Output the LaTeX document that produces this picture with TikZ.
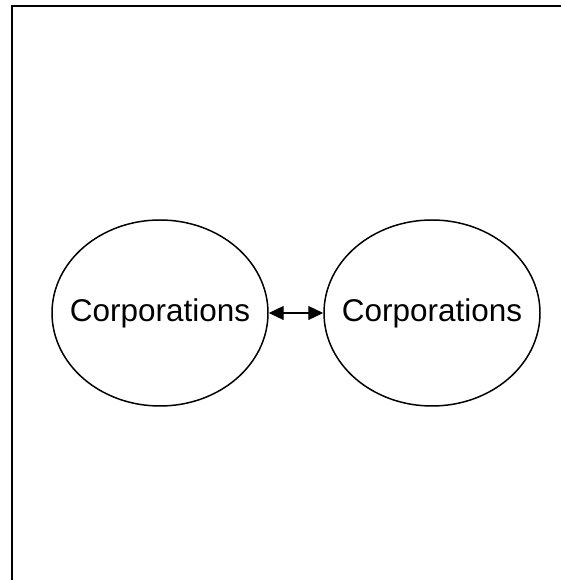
\documentclass[tikz,border=0pt]{standalone}
\usepackage{fontspec}
\setmainfont{Liberation Sans}
\usetikzlibrary{shapes.geometric,arrows.meta}
\begin{document}
\begin{tikzpicture}[
    party/.style={draw, ellipse, line width=0.85pt, inner xsep=-0.4cm, inner ysep=0pt,
      minimum width=4.32cm, minimum height=3.72cm,
      font=\fontsize{17.9}{21}\selectfont}
  ]
      \useasboundingbox (0,0) rectangle (11.22,11.6);
      \draw[line width=1.4pt] (11.22,11.48) -- (0.24,11.48) -- (0.24,0);
      \draw
        (3.20,5.34) node[party] (0){Corporations}
        (8.64,5.34) node[party] (1){Corporations};
      \begin{scope}[{Triangle[length=0.3cm,width=0.28cm]}-{Triangle[length=0.3cm,width=0.28cm]}, line width=0.7pt]
        \draw (0) to (1);
      \end{scope}
    \end{tikzpicture}
\end{document}
